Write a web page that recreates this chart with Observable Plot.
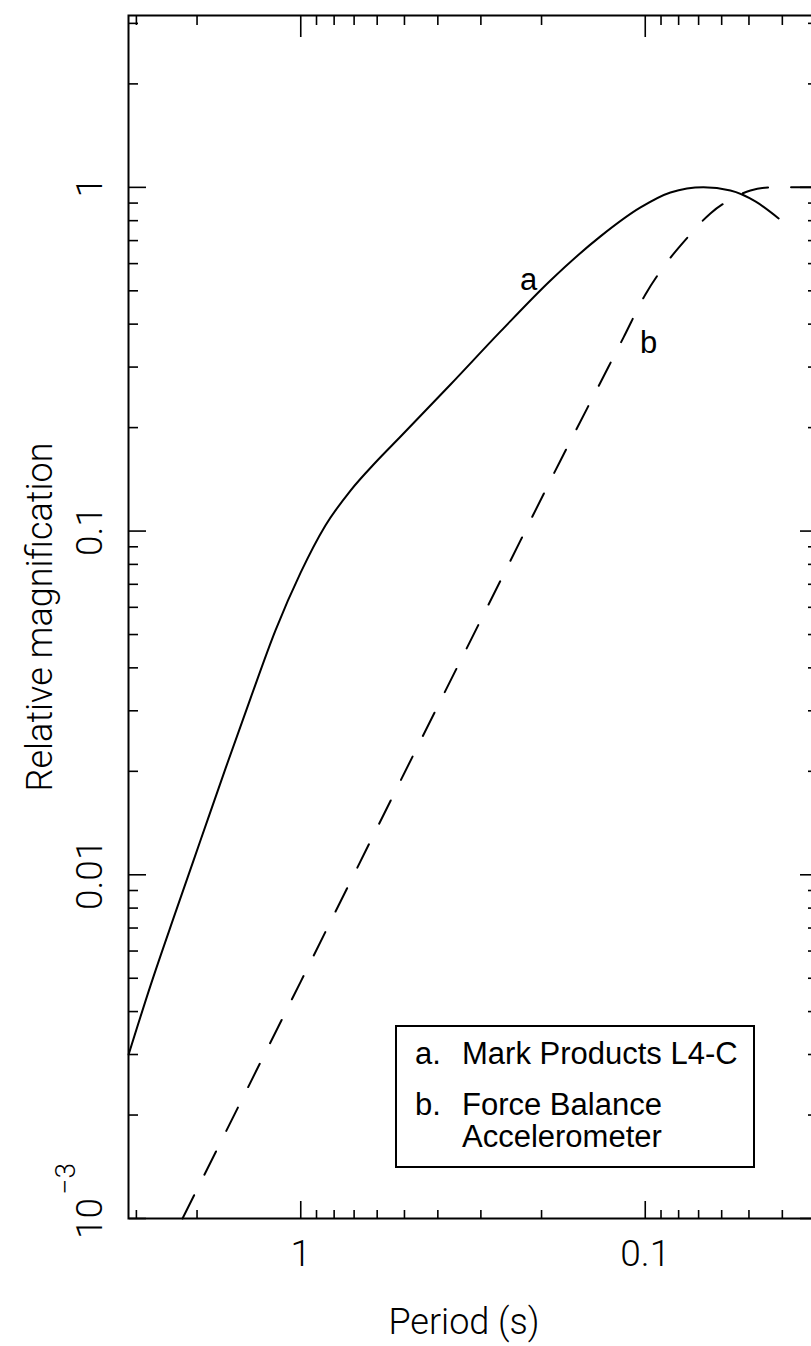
<!DOCTYPE html>
<html>
<head>
<meta charset="utf-8">
<script src="https://cdn.jsdelivr.net/npm/d3@7"></script>
<script src="https://cdn.jsdelivr.net/npm/@observablehq/plot@0.6"></script>
<style>
  html, body { margin: 0; padding: 0; background: #fff; overflow: hidden; }
  #wrap { position: relative; width: 811px; height: 1346px; overflow: hidden; background: #fff; }
  #wrap svg { display: block; }
  #legend { position: absolute; border: 2px solid #000; box-sizing: border-box; background: #fff;
            font-family: "Liberation Sans", Arial, Helvetica, sans-serif; font-size: 31px; color: #000; }
  #legend .key, #legend .name { position: absolute; white-space: pre; line-height: 32px; }
</style>
</head>
<body>
<div id="wrap"></div>
<script>
// ---- data ----
// Curve a: Mark Products L4-C (solid)
const periodA = [3.16, 2.73, 2.31, 1.954, 1.653, 1.399, 1.184, 1.0, 0.848, 0.717, 0.607, 0.513,
                 0.3675, 0.263, 0.1884, 0.1349, 0.1032, 0.0845, 0.0678, 0.0566, 0.0479, 0.041];
const magA    = [0.0030, 0.00476, 0.00777, 0.0126, 0.0204, 0.0326, 0.0514, 0.0758, 0.1038, 0.1312, 0.1583, 0.1884,
                 0.267, 0.381, 0.536, 0.720, 0.874, 0.966, 1.0, 0.979, 0.910, 0.812];
// Curve b: Force Balance Accelerometer (dashed)
const periodB = [2.204, 1.0, 0.513, 0.263, 0.1762, 0.1349, 0.1156, 0.0999, 0.0874, 0.0749, 0.0647,
                 0.0566, 0.0495, 0.0433, 0.0366, 0.0316];
const magB    = [0.001, 0.00489, 0.0188, 0.0718, 0.1605, 0.2706, 0.366, 0.488, 0.597, 0.720, 0.840,
                 0.922, 0.979, 1.0, 1.0, 1.0];

// axes
const xMajorTicks = [1, 0.1];
const xTickLabels = ["1", "0.1"];
const xMinorTicks = [3, 2, 0.9, 0.8, 0.7, 0.6, 0.5, 0.4, 0.3, 0.2, 0.09, 0.08, 0.07, 0.06, 0.05, 0.04];
const yMajorTicks = [1, 0.1, 0.01, 0.001];
const yTickLabels = ["1", "0.1", "0.01", "10"];
const yExponentTicks = [0.001];
const yExponentLabels = ["\u22123"];
const yMinorTicks = [3, 2, 0.9, 0.8, 0.7, 0.6, 0.5, 0.4, 0.3, 0.2,
                     0.09, 0.08, 0.07, 0.06, 0.05, 0.04, 0.03, 0.02,
                     0.009, 0.008, 0.007, 0.006, 0.005, 0.004, 0.003, 0.002];
const xTitle = ["Period (s)"];
const yTitle = ["Relative magnification"];

// curve labels (placed in data space)
const curveLabels = ["a", "b"];
const curveLabelPeriod = [0.218, 0.0977];
const curveLabelMag = [0.536, 0.352];

// legend
const legendKeys = ["a.", "b."];
const legendNames = ["Mark Products L4-C", "Force Balance\nAccelerometer"];

// ---- build ----
const seriesA = periodA.map((p, i) => ({period: p, mag: magA[i]}));
const seriesB = periodB.map((p, i) => ({period: p, mag: magB[i]}));
const labelRows = curveLabels.map((t, i) => ({t, period: curveLabelPeriod[i], mag: curveLabelMag[i]}));

const thinFont = "Roboto, 'Open Sans', Lato, 'DejaVu Sans', sans-serif";
const tickStyle = {fill: "none", label: null, strokeWidth: 1.6};

const chart = Plot.plot({
  width: 818,
  height: 1346,
  marginLeft: 128,
  marginRight: 1,
  marginTop: 15,
  marginBottom: 128,
  style: "background:white; max-width:none; overflow:visible;",
  x: {type: "log", domain: [Math.sqrt(10), 1 / (10 * Math.sqrt(10))], axis: null},
  y: {type: "log", domain: [1e-3, Math.sqrt(10)], axis: null},
  marks: [
    // inward ticks on all four sides
    Plot.axisX(xMajorTicks, {...tickStyle, anchor: "top", frameAnchor: "bottom", tickSize: 18}),
    Plot.axisX(xMinorTicks, {...tickStyle, anchor: "top", frameAnchor: "bottom", tickSize: 9}),
    Plot.axisX(xMajorTicks, {...tickStyle, anchor: "bottom", frameAnchor: "top", tickSize: 22}),
    Plot.axisX(xMinorTicks, {...tickStyle, anchor: "bottom", frameAnchor: "top", tickSize: 10}),
    Plot.axisY(yMajorTicks, {...tickStyle, anchor: "right", frameAnchor: "left", tickSize: 17}),
    Plot.axisY(yMinorTicks, {...tickStyle, anchor: "right", frameAnchor: "left", tickSize: 9}),
    Plot.axisY(yMajorTicks, {...tickStyle, anchor: "left", frameAnchor: "right", tickSize: 17}),
    Plot.axisY(yMinorTicks, {...tickStyle, anchor: "left", frameAnchor: "right", tickSize: 9}),
    Plot.frame({stroke: "black", strokeWidth: 2}),
    // curves
    Plot.line(seriesA, {x: "period", y: "mag", stroke: "black", strokeWidth: 2, curve: "monotone-x"}),
    Plot.line(seriesB, {x: "period", y: "mag", stroke: "black", strokeWidth: 2, curve: "monotone-x",
                        strokeDasharray: "26,23"}),
    Plot.text(labelRows, {x: "period", y: "mag", text: "t", fontSize: 31, fill: "black",
                          fontFamily: "'Liberation Sans', Arial, sans-serif", lineAnchor: "middle"}),
    // tick labels
    Plot.text(xMajorTicks, {x: d => d, text: (d, i) => xTickLabels[i], frameAnchor: "bottom", dy: 36,
                            lineAnchor: "middle", fontSize: 37, fontWeight: 300, fontFamily: thinFont,
                            fill: "black", letterSpacing: "3px"}),
    Plot.text(yMajorTicks, {y: d => d, text: (d, i) => yTickLabels[i], frameAnchor: "left", dx: -38,
                            rotate: -90, textAnchor: "middle", lineAnchor: "middle", fontSize: 37,
                            fontWeight: 300, fontFamily: thinFont, fill: "black", letterSpacing: "2px"}),
    Plot.text(yExponentTicks, {y: d => d, text: (d, i) => yExponentLabels[i], frameAnchor: "left", dx: -62,
                               dy: -24, rotate: -90, textAnchor: "start", lineAnchor: "middle", fontSize: 28,
                               fontWeight: 300, fontFamily: thinFont, fill: "black"}),
    // axis titles
    Plot.text(xTitle, {text: d => d, frameAnchor: "bottom", dx: -9, dy: 104, lineAnchor: "middle",
                       fontSize: 36, fontWeight: 300, fontFamily: thinFont, fill: "black", letterSpacing: "1.5px"}),
    Plot.text(yTitle, {text: d => d, frameAnchor: "left", dx: -88, rotate: -90, textAnchor: "middle",
                       lineAnchor: "middle", fontSize: 36, fontWeight: 300, fontFamily: thinFont,
                       fill: "black", letterSpacing: "1.5px"})
  ]
});

const wrap = document.getElementById("wrap");
wrap.appendChild(chart);

// legend box overlaid on the plot
const legend = document.createElement("div");
legend.id = "legend";
Object.assign(legend.style, {left: "395px", top: "1025px", width: "360px", height: "143px"});
const rowTops = [11, 62];
legendKeys.forEach((k, i) => {
  const key = document.createElement("div");
  key.className = "key";
  key.textContent = k;
  Object.assign(key.style, {left: "18px", top: rowTops[i] + "px"});
  const name = document.createElement("div");
  name.className = "name";
  name.textContent = legendNames[i];
  Object.assign(name.style, {left: "65px", top: rowTops[i] + "px"});
  legend.appendChild(key);
  legend.appendChild(name);
});
wrap.appendChild(legend);
</script>
</body>
</html>
